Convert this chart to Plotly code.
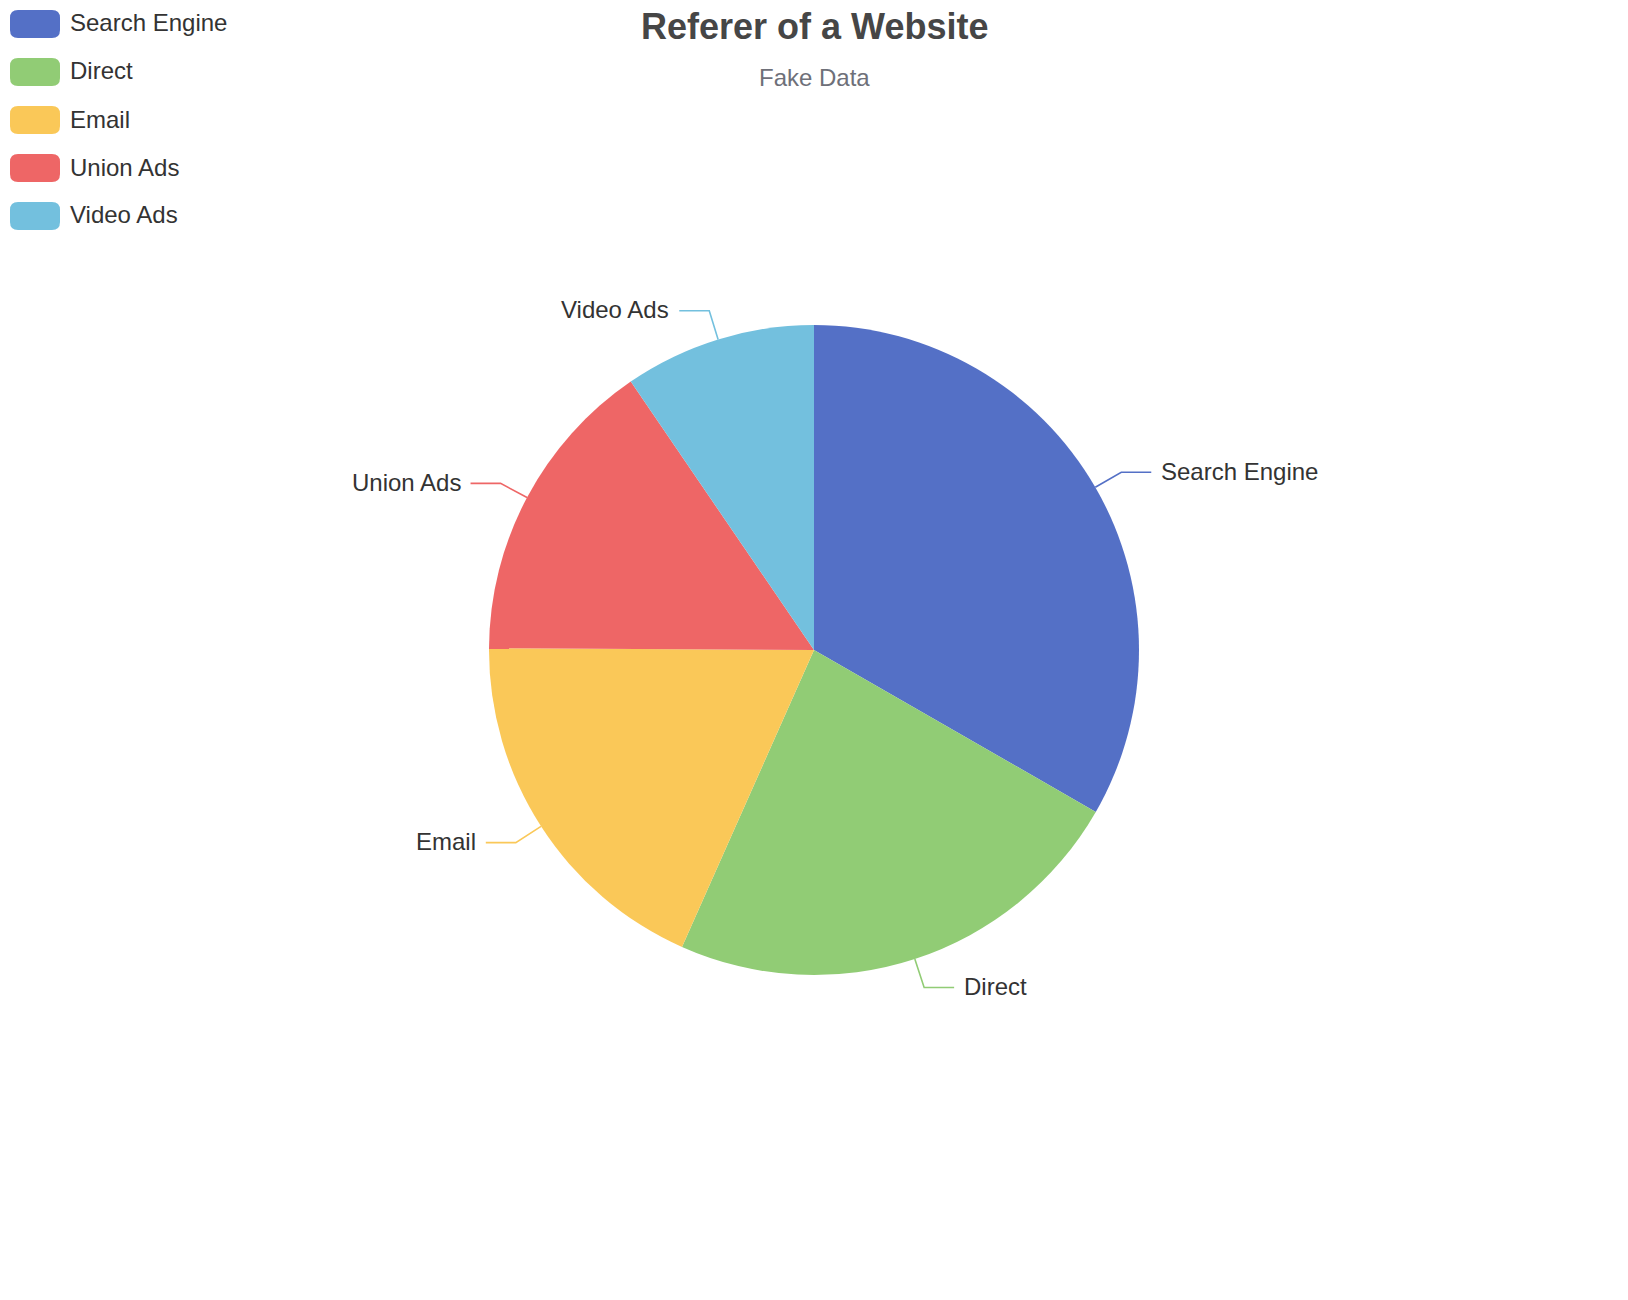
import math
import plotly.graph_objects as go

# ---- data ----
categories = ["Search Engine", "Direct", "Email", "Union Ads", "Video Ads"]
values = [1048, 735, 580, 484, 300]
title_text = "Referer of a Website"
subtitle_text = "Fake Data"

# ---- styles ----
colors = ["#5470c6", "#91cc75", "#fac858", "#ee6666", "#73c0de"]
FONT = "Liberation Sans, Arial, Helvetica, sans-serif"
W, H = 1628, 1300
cx, cy, R = 814, 650, 325
LEN1, LEN2, GAP = 30, 30, 9


def px(x):
    return x / W


def py(y):
    return 1 - y / H


fig = go.Figure()
fig.add_trace(go.Pie(
    labels=categories,
    values=values,
    sort=False,
    direction="clockwise",
    rotation=0,
    marker=dict(colors=colors, line=dict(width=0)),
    textinfo="none",
    hoverinfo="label+value+percent",
    showlegend=False,
    domain=dict(x=[px(cx - R), px(cx + R)], y=[py(cy + R), py(cy - R)]),
))

shapes = []
annotations = []

# outside labels with leader lines, computed from the data
total = sum(values)
cum = 0
for name, v, col in zip(categories, values, colors):
    mid = (cum + v / 2) / total * 2 * math.pi
    cum += v
    s, c = math.sin(mid), math.cos(mid)
    ex, ey = cx + R * s, cy - R * c
    bx, by = cx + (R + LEN1) * s, cy - (R + LEN1) * c
    right = s >= 0
    endx = bx + LEN2 if right else bx - LEN2
    path = "M {} {} L {} {} L {} {}".format(px(ex), py(ey), px(bx), py(by), px(endx), py(by))
    shapes.append(dict(type="path", xref="paper", yref="paper", path=path,
                       line=dict(color=col, width=1.6)))
    annotations.append(dict(
        x=px(endx + (GAP if right else -GAP)), y=py(by), xref="paper", yref="paper",
        text=name, showarrow=False, xanchor="left" if right else "right", yanchor="middle",
        borderpad=0, yshift=1, font=dict(family=FONT, size=24, color="#333333"),
    ))

# legend (rounded rectangles + text)
for i, (name, col) in enumerate(zip(categories, colors)):
    yc = 24 + 48 * i
    x0, x1, y0, y1, r = 10, 60, yc - 14, yc + 14, 8
    path = ("M {a} {b} L {c} {b} Q {x1} {b} {x1} {d} L {x1} {e} Q {x1} {f} {c} {f} "
            "L {a} {f} Q {x0} {f} {x0} {e} L {x0} {d} Q {x0} {b} {a} {b} Z").format(
        a=px(x0 + r), b=py(y0), c=px(x1 - r), d=py(y0 + r), e=py(y1 - r), f=py(y1),
        x0=px(x0), x1=px(x1))
    shapes.append(dict(type="path", xref="paper", yref="paper", path=path,
                       fillcolor=col, line=dict(width=0)))
    annotations.append(dict(
        x=px(69), y=py(yc), xref="paper", yref="paper", text=name, showarrow=False,
        xanchor="left", yanchor="middle", borderpad=0, yshift=1,
        font=dict(family=FONT, size=24, color="#333333"),
    ))

# title and subtitle
annotations.append(dict(x=0.5, y=py(27), xref="paper", yref="paper",
                        text="<b>" + title_text + "</b>", showarrow=False,
                        xanchor="center", yanchor="middle", borderpad=0,
                        font=dict(family=FONT, size=36, color="#464646")))
annotations.append(dict(x=0.5, y=py(78), xref="paper", yref="paper",
                        text=subtitle_text, showarrow=False,
                        xanchor="center", yanchor="middle", borderpad=0, yshift=1,
                        font=dict(family=FONT, size=24, color="#6e7079")))

fig.update_layout(
    width=W, height=H, autosize=False,
    margin=dict(l=0, r=0, t=0, b=0),
    paper_bgcolor="white", plot_bgcolor="white",
    shapes=shapes, annotations=annotations,
    showlegend=False,
)

fig.write_html("out.html")
